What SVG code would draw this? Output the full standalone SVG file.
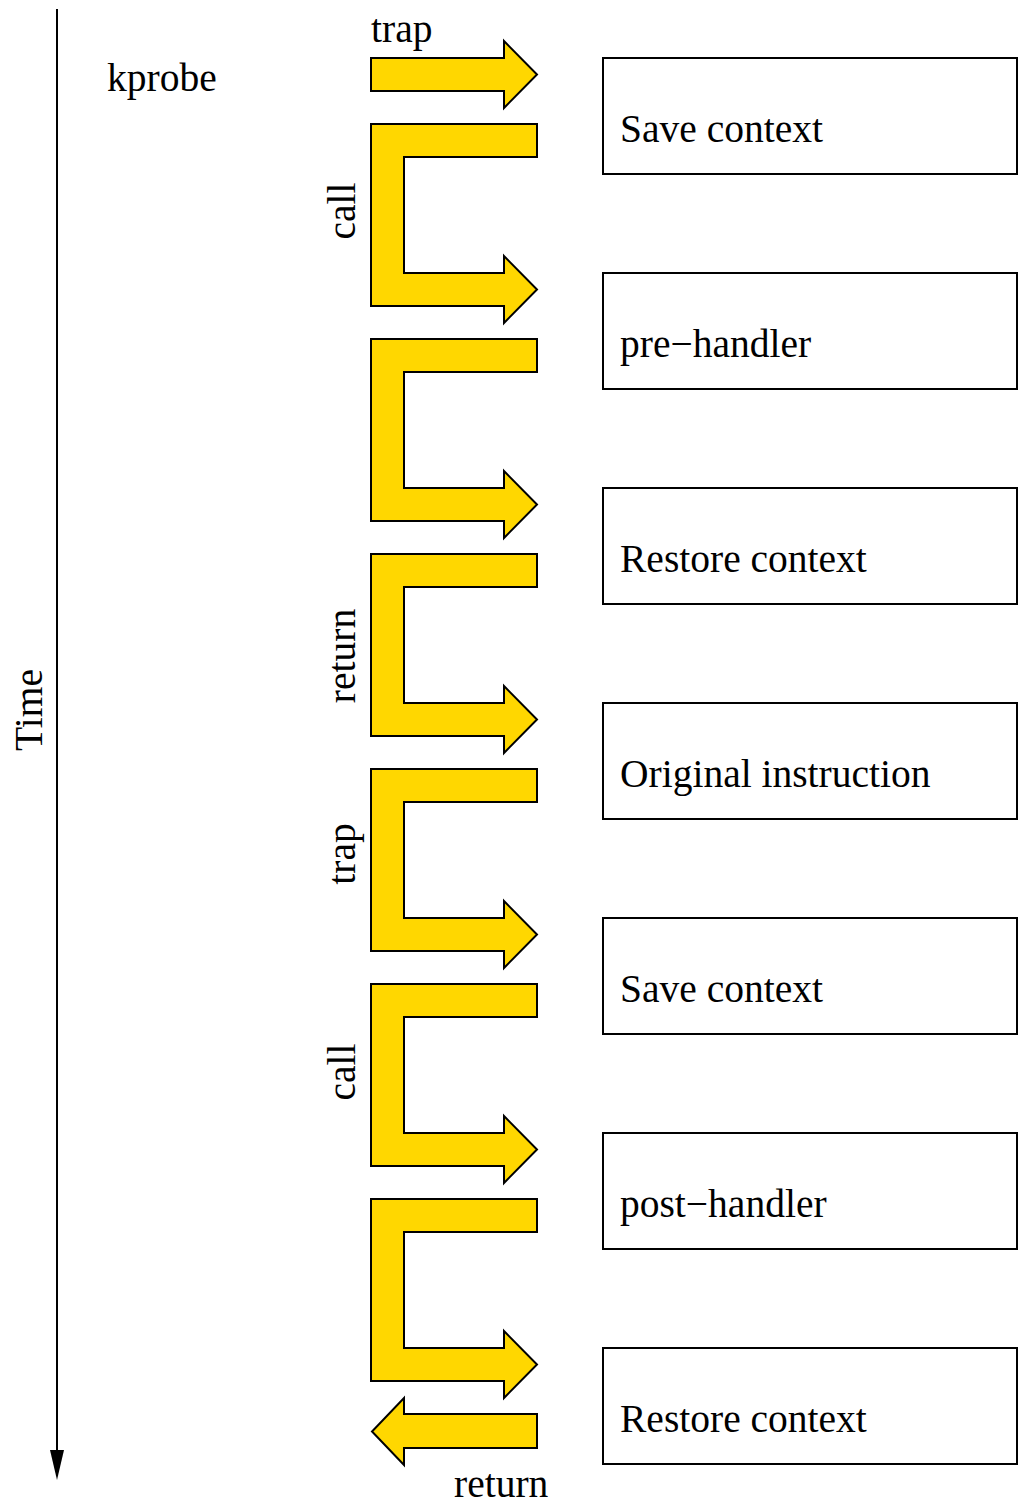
<svg xmlns="http://www.w3.org/2000/svg" xmlns:xlink="http://www.w3.org/1999/xlink" width="1024" height="1511" viewBox="0 0 1024 1511">
<style>
text{font-family:"Liberation Serif","Times New Roman",serif;font-size:39.5px;fill:#000}
.box{fill:#fff;stroke:#000;stroke-width:2}
.arr{fill:#FFD700;stroke:#000;stroke-width:2;stroke-linejoin:miter}
</style>
<defs>
<path id="u" class="arr" d="M371 124 H537 V157 H404 V273 H504 V256 L537 289.5 L504 323 V306 H371 Z"/>
</defs>
<rect width="1024" height="1511" fill="#fff"/>
<g id="axis">
<line x1="57" y1="9" x2="57" y2="1452" stroke="#000" stroke-width="2"/>
<polygon points="50,1450 64,1450 57,1480" fill="#000"/>
<text transform="translate(42,710) rotate(-90)" text-anchor="middle">Time</text>
</g>
<text x="107" y="91">kprobe</text>
<g id="connectors">
<path class="arr" d="M371 58 H504 V41 L537 74.5 L504 108 V91 H371 Z"/>
<use xlink:href="#u"/>
<use xlink:href="#u" transform="translate(0,215)"/>
<use xlink:href="#u" transform="translate(0,430)"/>
<use xlink:href="#u" transform="translate(0,645)"/>
<use xlink:href="#u" transform="translate(0,860)"/>
<use xlink:href="#u" transform="translate(0,1075)"/>
<path class="arr" d="M537 1414 H404 V1398 L372 1431.5 L404 1465 V1448 H537 Z"/>
<text x="371" y="42">trap</text>
<text transform="translate(355,211) rotate(-90)" text-anchor="middle">call</text>
<text transform="translate(355,656) rotate(-90)" text-anchor="middle">return</text>
<text transform="translate(355,854) rotate(-90)" text-anchor="middle">trap</text>
<text transform="translate(355,1072) rotate(-90)" text-anchor="middle">call</text>
<text x="454" y="1497">return</text>
</g>
<g id="n1"><rect class="box" x="603" y="58" width="414" height="116"/><text x="620" y="142">Save context</text></g>
<g id="n2"><rect class="box" x="603" y="273" width="414" height="116"/><text x="620" y="357">pre−handler</text></g>
<g id="n3"><rect class="box" x="603" y="488" width="414" height="116"/><text x="620" y="572">Restore context</text></g>
<g id="n4"><rect class="box" x="603" y="703" width="414" height="116"/><text x="620" y="787">Original instruction</text></g>
<g id="n5"><rect class="box" x="603" y="918" width="414" height="116"/><text x="620" y="1002">Save context</text></g>
<g id="n6"><rect class="box" x="603" y="1133" width="414" height="116"/><text x="620" y="1217">post−handler</text></g>
<g id="n7"><rect class="box" x="603" y="1348" width="414" height="116"/><text x="620" y="1432">Restore context</text></g>
</svg>
